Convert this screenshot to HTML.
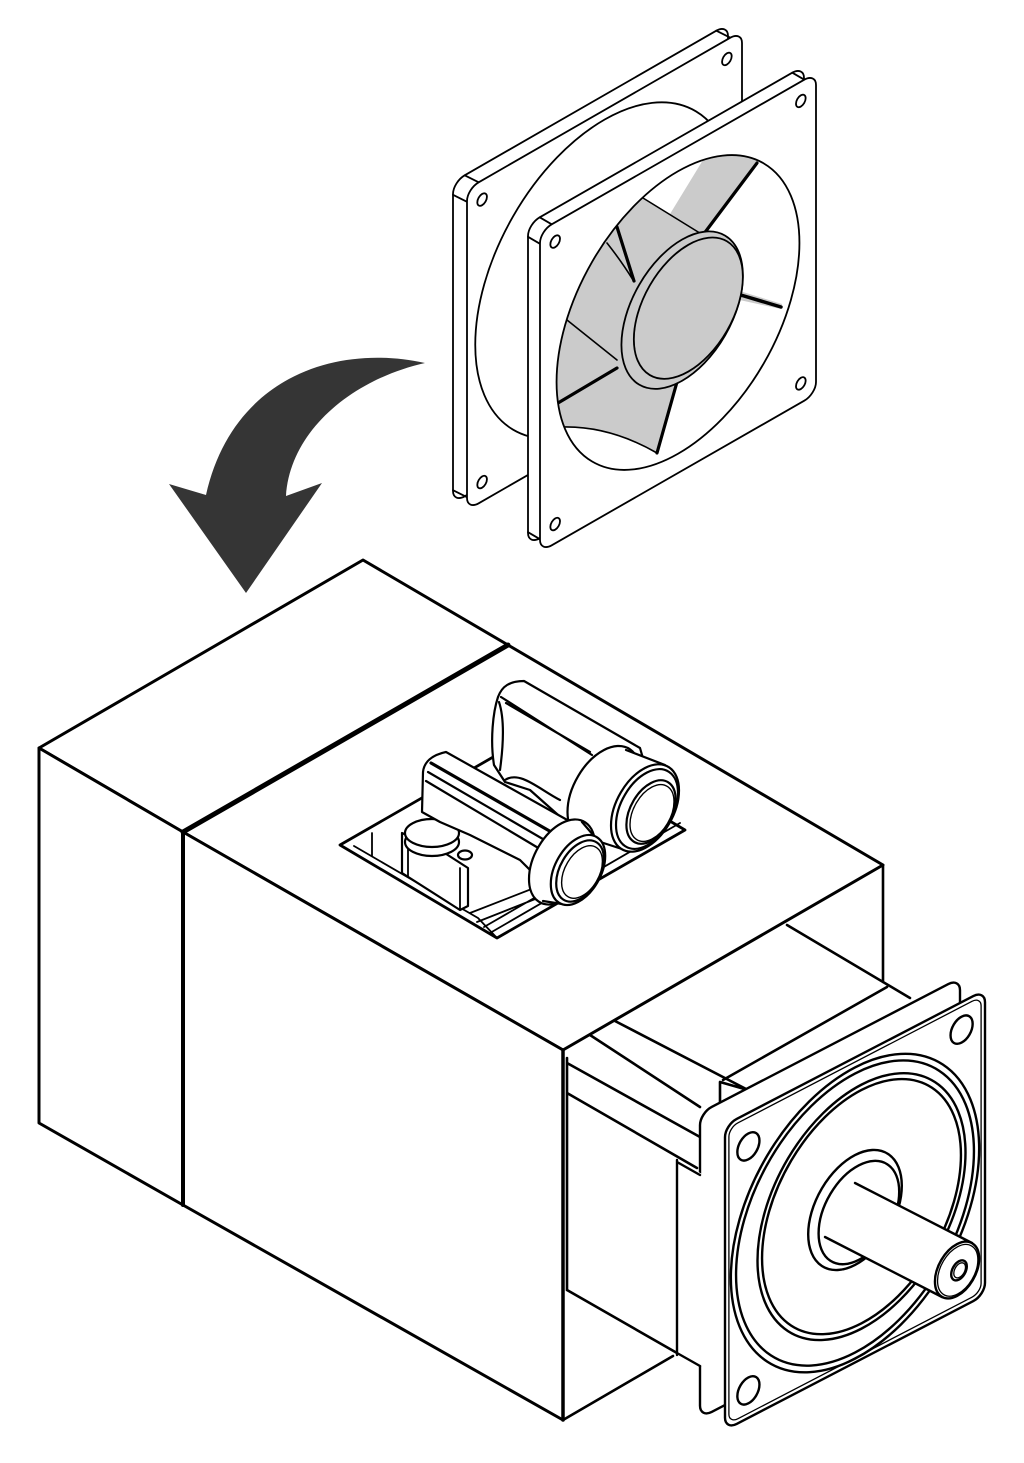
<!DOCTYPE html>
<html><head><meta charset="utf-8"><style>
html,body{margin:0;padding:0;background:#fff;}
svg{display:block}
svg *{vector-effect:non-scaling-stroke}
</style></head><body>
<svg width="1024" height="1463" viewBox="0 0 1024 1463" xmlns="http://www.w3.org/2000/svg">
<defs>
<clipPath id="op"><circle r="0.88" transform="matrix(138,-79,0,160.5,678,312.5)"/></clipPath>
</defs>

<!-- curved arrow -->
<path d="M425,363 C335,343 232,378 206,495 L169,484 L246,593 L322,483 L286,496 C290,432 350,380 425,363 Z" fill="#353535"/>

<!-- FAN -->
<g stroke="#000" stroke-width="1.8" fill="#fff" stroke-linejoin="round" stroke-linecap="round">
  <!-- back frame -->
  <g transform="translate(-14,-7)"><rect transform="matrix(137.5,-79,0,160.5,604.5,270.5)" x="-1" y="-1" width="2" height="2" rx="0.085" ry="0.075"/></g>
  <path fill="none" d="M467,201.8 l-14,-7 M478.7,182.3 l-14,-7 M730.3,37.7 l-14,-7 M467,497.2 l-14,-7"/>
  <rect transform="matrix(137.5,-79,0,160.5,604.5,270.5)" x="-1" y="-1" width="2" height="2" rx="0.085" ry="0.075"/>
  <g transform="matrix(137.5,-79,0,160.5,604.5,270.5)">
    <circle cx="-0.89" cy="-0.88" r="0.035"/>
    <circle cx="0.89" cy="-0.88" r="0.035"/>
    <circle cx="-0.89" cy="0.88" r="0.035"/>
    <circle r="0.94" fill="none"/>
  </g>
  <!-- front frame -->
  <g transform="translate(-12,-7)"><rect transform="matrix(138,-79,0,160.5,678,312.5)" x="-1" y="-1" width="2" height="2" rx="0.085" ry="0.075"/></g>
  <path fill="none" d="M540,243.8 l-12,-7 M551.7,224.3 l-12,-7 M804.3,79.7 l-12,-7 M540,539.2 l-12,-7"/>
  <rect transform="matrix(138,-79,0,160.5,678,312.5)" x="-1" y="-1" width="2" height="2" rx="0.085" ry="0.075"/>
  <g clip-path="url(#op)">
    <path fill="#cbcbcb" stroke="none" d="M530,470 L530,240 L600,170 L643,198 L670,214 L703,160 L705,130 L770,130 L757,160 L703,235 L682,312 L677,382 L657,453 Q610,428 563,427 L530,440 Z"/>
    <path fill="none" stroke-width="1.6" d="M643,198 L703,235 M567,320 L617,360 M563,427 Q610,426 657,453 M607,243 Q622,262 633,280"/>
    <path fill="none" stroke-width="3.2" d="M757,163 L703,235 M617,227 L634,281 M558,403 L617,368 M657,453 L677,382"/>
    <path fill="#cbcbcb" stroke="none" d="M733,289 L782,304 L781,309 L735,299 Z"/>
    <path fill="none" stroke-width="3.5" d="M734,293 L781,307"/>
  </g>
  <circle r="0.88" transform="matrix(138,-79,0,160.5,678,312.5)" fill="none"/>
  <g transform="matrix(138,-79,0,160.5,678,312.5)">
    <circle cx="0.03" cy="0" r="0.44" fill="#cbcbcb"/>
    <circle cx="0.075" cy="0.01" r="0.395" fill="#cbcbcb"/>
    <circle cx="-0.89" cy="-0.88" r="0.035"/>
    <circle cx="0.89" cy="-0.88" r="0.035"/>
    <circle cx="-0.89" cy="0.88" r="0.035"/>
    <circle cx="0.89" cy="0.88" r="0.035"/>
  </g>
</g>

<!-- MAIN HOUSING -->
<g stroke="#000" fill="#fff" stroke-linejoin="round" stroke-linecap="round" stroke-width="3">
  <polygon points="39,748 363,560 508,645 183,832"/>
  <polygon points="39,748 183,832 183,1205 39,1123"/>
  <polygon points="183,832 508,645 883,865 563,1050"/>
  <polygon points="183,832 563,1050 563,1420 183,1205"/>
  <line x1="183" y1="832" x2="508" y2="645" stroke-width="5"/>
  <line x1="183" y1="832" x2="183" y2="1205" stroke-width="4"/>
  <line x1="563" y1="1050" x2="563" y2="1420" stroke-width="3.5"/>
</g>

<!-- motor body lines -->
<g stroke="#000" fill="none" stroke-linejoin="round" stroke-linecap="round" stroke-width="2.6">
  <path d="M883,865 L883,982 M563,1420 L673,1356 M567,1058 L567,1290 M567,1063 L700,1137 M567,1093 L697,1168 M567,1290 L677,1353 M590,1035 L700,1107 M615,1021 L748,1090 M787,925 L910,998 M723,1080 L887,987 M720,1082 L748,1090 L722,1103 M720,1082 L720,1105"/>
</g>

<!-- FLANGE -->
<g stroke="#000" fill="#fff" stroke-linejoin="round" stroke-linecap="round" stroke-width="2.4">
  <g transform="translate(-25,-12)"><rect transform="matrix(130,-67.5,0,152.5,855,1210)" x="-1" y="-1" width="2" height="2" rx="0.09" ry="0.08"/></g>
  <polygon points="677,1160 702,1174 702,1366 677,1355" stroke="none"/>
  <path fill="none" d="M677,1160 L677,1355 M677,1162 L700,1175 M677,1353 L700,1366"/>
  <rect transform="matrix(130,-67.5,0,152.5,855,1210)" x="-1" y="-1" width="2" height="2" rx="0.09" ry="0.08"/>
  <g transform="matrix(130,-67.5,0,152.5,855,1210)" fill="none">
    <rect x="-0.97" y="-0.97" width="1.94" height="1.94" rx="0.07" ry="0.06" stroke-width="1.3"/>
    <circle cx="-0.82" cy="-0.78" r="0.085"/>
    <circle cx="0.82" cy="-0.82" r="0.085"/>
    <circle cx="-0.82" cy="0.82" r="0.085"/>
    <circle cx="0" cy="0.02" r="0.955"/>
    <circle cx="0" cy="0.02" r="0.915"/>
    <circle cx="0.05" cy="0" r="0.8"/>
    <circle cx="0.05" cy="0" r="0.765"/>
    <circle cx="0" cy="0" r="0.36" fill="#fff"/>
    <circle cx="0.03" cy="0.03" r="0.31"/>
  </g>
  <polygon points="855,1183 972,1243 942,1297 825,1237" stroke="none"/>
  <path fill="none" d="M855,1183 L972,1243 M825,1237 L942,1297"/>
  <g transform="matrix(130,-67.5,0,152.5,855,1210)">
    <circle cx="0.785" cy="0.741" r="0.17"/>
    <circle cx="0.79" cy="0.745" r="0.155" fill="none" stroke-width="1.3"/>
    <circle cx="0.8" cy="0.75" r="0.06" fill="none"/>
    <circle cx="0.805" cy="0.752" r="0.045" fill="none" stroke-width="1.3"/>
  </g>
</g>

<!-- CONNECTOR OPENING -->
<g stroke="#000" fill="#fff" stroke-linejoin="round" stroke-linecap="round" stroke-width="2.2">
  <polygon points="340,845 497,938 685,830 528,737" stroke-width="2.8"/>
  <path fill="none" stroke-width="1.8" d="M354,846 L478,918 M372,833 L372,856 M478,918 L497,938 M470,913 L547,883 M477,922 L553,892 M484,927 L600,860 M490,933 L640,846 M640,846 L680,823"/>
  <!-- signal connector base box -->
  <polygon points="402,833 402,873 460,910 468,906 468,868 440,850" />
  <path fill="none" stroke-width="1.8" d="M460,868 L460,910 M408,836 L408,876"/>
  <!-- round base disc -->
  <ellipse cx="432" cy="842" rx="27" ry="14"/>
  <ellipse cx="432" cy="833" rx="27" ry="14"/>
  <ellipse cx="465" cy="855" rx="7" ry="4.5"/>

  <!-- big (power) connector -->
  <path d="M494,765 C490,740 493,712 498,697 C502,686 510,681 524,681 L640,748 L655,800 L612,842 L575,830 L530,790 L505,782 Z"/>
  <path fill="none" d="M501,697 L592,755 M506,703 L590,752 M499,702 C505,720 503,748 500,770 M505,780 C520,770 540,790 560,800"/>
  <circle r="1" transform="matrix(36.5,-19,0,43,604,793)"/>
  <polygon points="626,750 665,765 625,850 582,836" stroke="none"/>
  <path fill="none" d="M626,750 L665,765 M582,836 L625,850"/>
  <circle r="1" transform="matrix(34,-17.6,0,40,645,808)"/>
  <circle r="1" fill="none" transform="matrix(31,-16,0,36.5,647,809)"/>
  <circle r="1" fill="none" transform="matrix(24.6,-12.8,0,29,651,812)"/>
  <circle r="1" fill="none" stroke-width="1.4" transform="matrix(22,-11.4,0,26,652,813)"/>

  <!-- small (signal) connector -->
  <path d="M422,812 L423,772 C424,762 432,755 446,752 L578,826 L590,850 L560,900 L520,860 L470,835 L440,822 Z"/>
  <path fill="none" stroke-width="3.2" d="M431,763 L560,837"/>
  <path fill="none" d="M428,772 L548,842 M426,781 L540,849"/>
  <circle r="1" transform="matrix(33,-17,0,39,562,862)"/>
  <polygon points="582,822 594,836 562,904 543,901" stroke="none"/>
  <path fill="none" d="M582,822 L594,836 M543,901 L562,904"/>
  <circle r="1" transform="matrix(27.2,-14.1,0,32,578,870)"/>
  <circle r="1" fill="none" transform="matrix(23.8,-12.3,0,28,580,871)"/>
  <circle r="1" fill="none" stroke-width="1.4" transform="matrix(20.4,-10.6,0,24,582,872)"/>
</g>
</svg>
</body></html>
